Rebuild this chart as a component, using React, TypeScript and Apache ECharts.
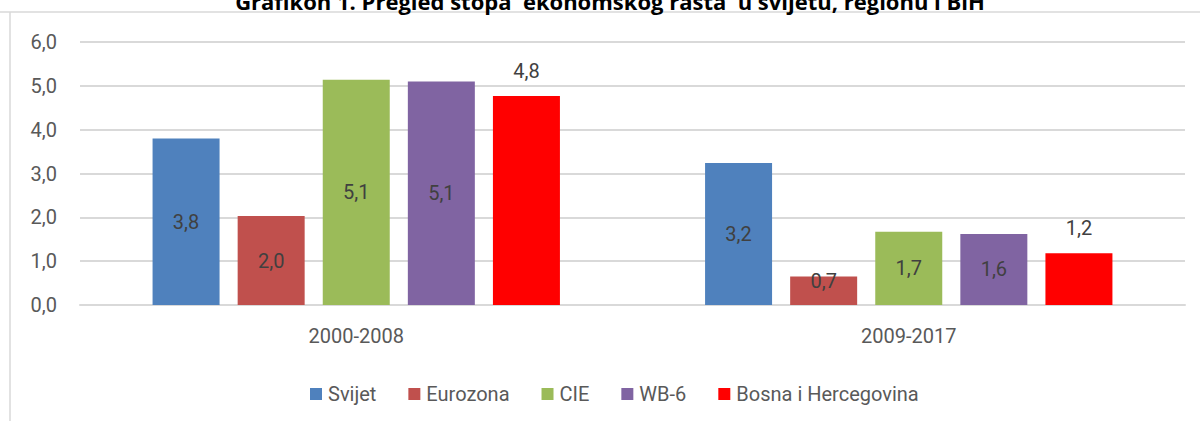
import React, { useEffect, useRef } from "react";
import * as echarts from "echarts";

const categories = ["2000-2008", "2009-2017"];
const seriesNames = ["Svijet", "Eurozona", "CIE", "WB-6", "Bosna i Hercegovina"];
const colors = ["#4F81BD", "#C0504D", "#9BBB59", "#8064A2", "#FF0000"];
const svijet = [3.8, 3.24];
const eurozona = [2.03, 0.65];
const cie = [5.14, 1.67];
const wb6 = [5.1, 1.62];
const bih = [4.77, 1.18];
const yTicks = [0, 1, 2, 3, 4, 5, 6];
const title = "Grafikon 1. Pregled stopa  ekonomskog rasta  u svijetu, regionu i BiH";

const FONT = "Roboto, 'Open Sans', sans-serif";

export default function App() {
  const ref = useRef<HTMLDivElement>(null);
  useEffect(() => {
    const chart = echarts.init(ref.current!, null, { renderer: "svg" });
    const data = [svijet, eurozona, cie, wb6, bih];
    const fmt = (v: number) => v.toFixed(1).replace(".", ",");
    chart.setOption({
      animation: false,
      backgroundColor: "#ffffff",
      textStyle: { fontFamily: FONT },
      grid: { left: 80, right: 15, top: 42, bottom: 116, containLabel: false },
      legend: {
        top: 379,
        left: 305,
        itemWidth: 12,
        itemHeight: 12,
        itemGap: 32,
        icon: "rect",
        textStyle: { fontFamily: FONT, fontSize: 20, color: "#595959", padding: [0, 0, 0, 1] },
        data: seriesNames,
      },
      xAxis: {
        type: "category",
        data: categories,
        axisLine: { show: true, lineStyle: { color: "#d9d9d9", width: 2 } },
        axisTick: { show: false },
        axisLabel: { fontFamily: FONT, fontSize: 20, color: "#595959", margin: 21 },
      },
      yAxis: {
        type: "value",
        min: yTicks[0],
        max: yTicks[yTicks.length - 1],
        interval: 1,
        axisLine: { show: false },
        axisTick: { show: false },
        splitLine: { lineStyle: { color: "#d9d9d9", width: 2 } },
        axisLabel: {
          fontFamily: FONT,
          fontSize: 20,
          color: "#595959",
          margin: 23,
          formatter: (v: number) => fmt(v),
        },
      },
      series: seriesNames.map((name, i) => ({
        name,
        type: "bar",
        data: data[i].map((v) =>
          v < 1 && i !== 4 ? { value: v, label: { offset: [0, -10] } } : v
        ),
        barWidth: 67,
        barGap: "27%",
        itemStyle: { color: colors[i] },
        label: {
          show: true,
          position: i === 4 ? "top" : "inside",
          distance: 15,
          fontFamily: FONT,
          fontSize: 20,
          color: "#404040",
          formatter: (p: any) => fmt(Math.round(p.value * 10) / 10),
        },
      })),
      graphic: [
        {
          type: "line",
          shape: { x1: 0, y1: 12, x2: 1200, y2: 12 },
          style: { stroke: "#d9d9d9", lineWidth: 1.5 },
          silent: true,
        },
        {
          type: "line",
          shape: { x1: 10, y1: 12, x2: 10, y2: 421 },
          style: { stroke: "#d9d9d9", lineWidth: 1.5 },
          silent: true,
        },
        {
          type: "text",
          x: 610,
          y: 12,
          style: {
            text: title,
            fontFamily: "'Open Sans', sans-serif",
            fontWeight: "bold",
            fontSize: 22,
            fill: "#000000",
            textAlign: "center",
            textVerticalAlign: "bottom",
          },
          silent: true,
        },
      ],
    });
    return () => chart.dispose();
  }, []);
  return <div ref={ref} style={{ width: 1200, height: 421, position: "absolute", left: 0, top: 0 }} />;
}
